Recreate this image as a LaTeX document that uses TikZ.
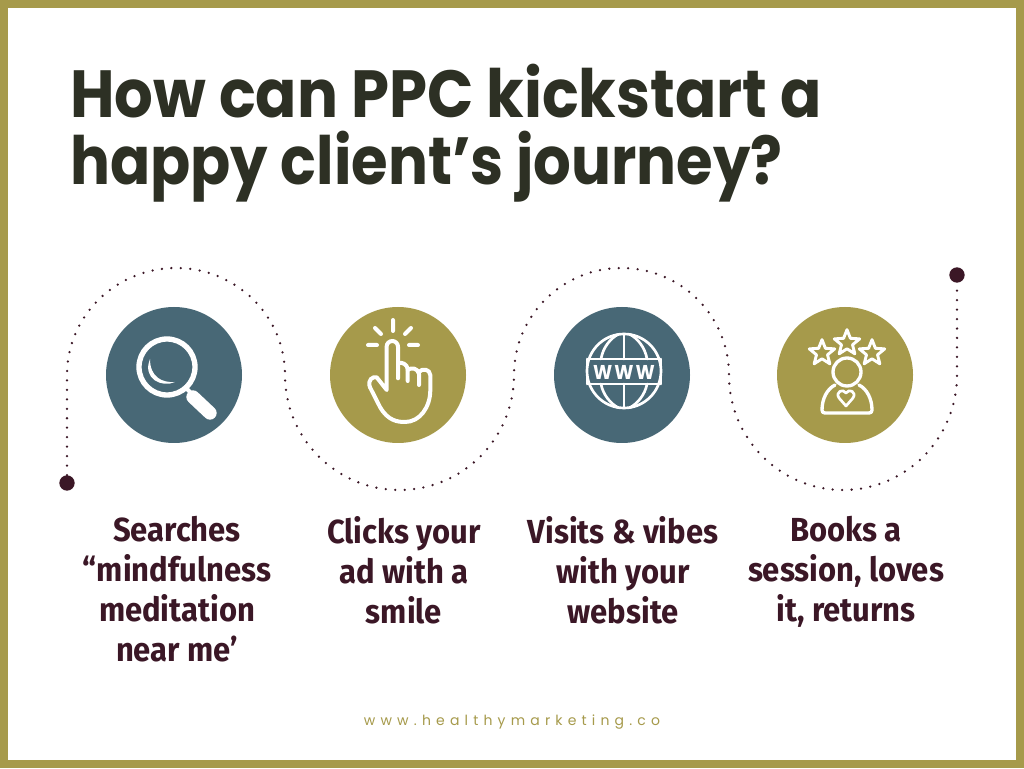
\documentclass[tikz,border=0pt]{standalone}
\usepackage{fontspec}
\usepackage{xcolor}
\usetikzlibrary{positioning,shapes.geometric}
\setmainfont{Poppins}
\newfontfamily\titlefont[FakeStretch=0.913,BoldFont={Poppins Bold}]{Poppins}
\newfontfamily\titlenarrow[FakeStretch=0.889,BoldFont={Poppins Bold}]{Poppins}
\newfontfamily\stepfont[FakeStretch=0.93]{Fira Sans}[BoldFont={Fira Sans Bold}]
\newfontfamily\sitefont[LetterSpace=37]{Poppins}
\definecolor{tea}{HTML}{486876}
\definecolor{oli}{HTML}{A69A4B}
\definecolor{plum}{HTML}{3B1726}
\definecolor{ink}{HTML}{2D3024}

\begin{document}
\begin{tikzpicture}[x=0.75pt,y=0.75pt,
  disc/.style={circle, minimum size=102pt, inner sep=0pt, fill=#1},
  disc/.default=tea, dotend/.style={circle, minimum size=11.5pt, inner sep=0pt, fill=plum},
  steplabel/.style={font=\stepfont\bfseries\fontsize{25}{30}\selectfont, text=plum, align=center, anchor=north, inner sep=0pt},
  trail/.style={plum, line width=1.9pt, line cap=round, dash pattern=on 0pt off 7.1pt},
  ic/.style={white, line width=3pt, line cap=round, line join=round},
  icthin/.style={white, line width=2pt, line cap=round, line join=round},
  staricon/.style={star, star points=5, star point ratio=2.3, minimum size=20pt, inner sep=0pt, draw=white, line width=2.2pt, line join=round}]
\useasboundingbox (0,0) rectangle (1024,768);
\fill[white] (0,0) rectangle (1024,768);
\draw[oli, line width=6pt] (4,4) rectangle (1020,764);
\node[font=\titlefont\bfseries\fontsize{50}{50}\selectfont, text=ink, align=left, anchor=north west, inner sep=0pt] (title) at (70,704) {How can PPC kickstart a\\{\titlenarrow\bfseries happy client’s journey?}};
% trail behind the discs
\node[dotend] (start) at (67,285) {};
\node[dotend] (finish) at (957,493) {};
\draw[trail] (start) -- (67,393) arc[start angle=180, end angle=0, x radius=109, y radius=107]
  arc[start angle=180, end angle=360, x radius=114.5, y radius=115]
  arc[start angle=180, end angle=0, x radius=107.5, y radius=107]
  arc[start angle=180, end angle=360, x radius=114, y radius=115] -- (finish);
\node[disc=tea] (search) at (174,393) {};
\node[disc=oli] (click) at (398,393) {};
\node[disc=tea] (visit) at (622,393) {};
\node[disc=oli] (book) at (845,393) {};
% magnifier
\begin{scope}[shift={(search.center)}]
  \draw[ic, line width=4pt] (-7,8) circle (28);
  \draw[ic] (12,-13) -- (19,-20);
  \draw[white, line width=10pt, line cap=round] (19,-22) -- (36,-38);
  \fill[white] (-24,16) .. controls (-32,-4) and (-12,-13) .. (1,-7) .. controls (-12,-8) and (-24,-2) .. cycle;
\end{scope}
% hand
\begin{scope}[shift={(click.center)}]
  \draw[ic] (-5,55) -- (-5,44) (-23,47) -- (-17,41) (13,47) -- (7,41) (-30,30) -- (-21,30) (20,30) -- (11,30);
  \draw[ic] (0,-3.3) -- (0,28.3) arc[start angle=0, end angle=180, radius=5.7] -- (-11.3,-15) -- (-21.3,-2.3)
    .. controls (-25,-1) and (-31,-5) .. (-28,-12.3) -- (-18,-32)
    .. controls (-10,-46) and (0,-47) .. (7,-47) .. controls (22,-47) and (32.3,-32) .. (32.3,-15)
    -- (32.3,0) .. controls (32,6) and (24,7) .. (21,3);
  \draw[ic] (21,-10) -- (21,1) .. controls (20,7) and (13,8) .. (9.7,5);
  \draw[ic] (9.7,-6) -- (9.7,6) .. controls (9,11) and (4,13) .. (0,12);
\end{scope}
% globe
\begin{scope}[shift={(visit.center)}]
  \draw[icthin] (2,4) circle (37);
  \draw[icthin] (2,41) -- (2,16) (2,-9) -- (2,-33);
  \draw[icthin] (-21,16) .. controls (-19,28) and (-11,37) .. (-4,40.5) (25,16) .. controls (23,28) and (15,37) .. (8,40.5);
  \draw[icthin] (-21,-9) .. controls (-19,-20) and (-11,-29) .. (-4,-32.5) (25,-9) .. controls (23,-20) and (15,-29) .. (8,-32.5);
  \draw[icthin] (-34,16) -- (38,16) (-34,-9) -- (38,-9) (-35,16) -- (-35,-9) (39,16) -- (39,-9);
  \node[text=white, font=\titlefont\bfseries\fontsize{15}{15}\selectfont, inner sep=0pt] (www) at (2,3) {W\hspace{1.5pt}W\hspace{1.5pt}W};
\end{scope}
% person with stars
\begin{scope}[shift={(book.center)}]
  \node[staricon] (starl) at (-23,22) {};
  \node[staricon] (starm) at (2,32) {};
  \node[staricon] (starr) at (27,22) {};
  \draw[icthin, line width=2.5pt] (2,3) circle (14);
  \draw[icthin, line width=2.5pt] (-10,-10) .. controls (-18,-14) and (-23,-24) .. (-23,-35) .. controls (-23,-37) and (-22,-38) .. (-20,-38)
    -- (24,-38) .. controls (26,-38) and (27,-37) .. (27,-35) .. controls (27,-24) and (22,-14) .. (14,-10);
  \draw[icthin] (1,-31) -- (-6,-23) .. controls (-10,-17) and (-2,-13) .. (1,-18) .. controls (4,-13) and (12,-17) .. (8,-23) -- cycle;
\end{scope}
\node[steplabel] (searches) at (177,252) {Searches\\“mindfulness\\meditation\\near me’};
\node[steplabel] (clicks) at (404,252) {Clicks your\\ad with a\\smile};
\node[steplabel] (visits) at (623,252) {Visits \& vibes\\with your\\website};
\node[steplabel] (books) at (846,252) {Books a\\session, loves\\it, returns};
\node[font=\sitefont\fontsize{10.5}{12}\selectfont, text=oli, inner sep=0pt] (site) at (512,46) {www.healthymarketing.co};
\end{tikzpicture}
\end{document}
